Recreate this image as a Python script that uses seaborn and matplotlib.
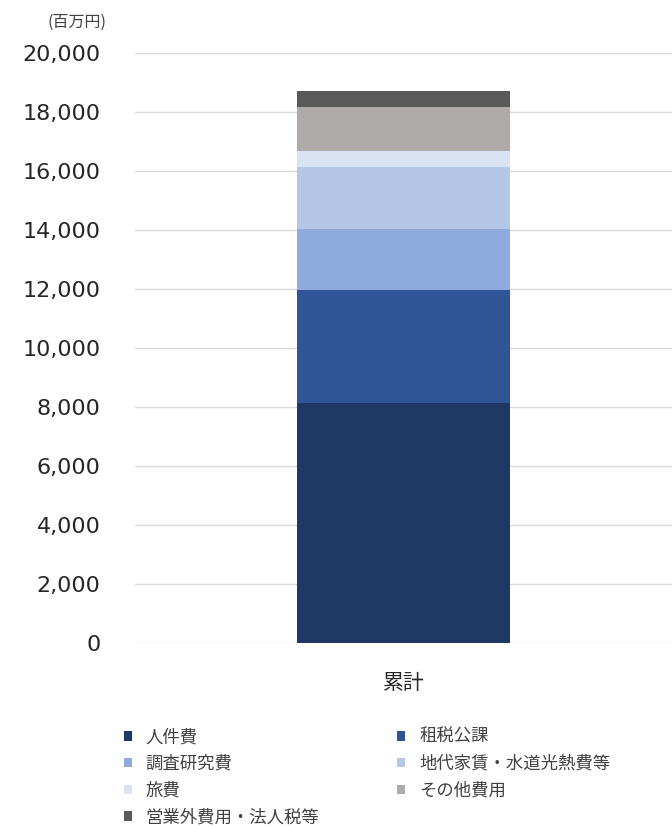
import numpy as np
import pandas as pd
import matplotlib
matplotlib.use("Agg")
import matplotlib.pyplot as plt
import seaborn as sns
from matplotlib.patches import Patch

categories = ["累計"]
series_names = ["人件費", "租税公課", "調査研究費", "地代家賃・水道光熱費等", "旅費", "その他費用", "営業外費用・法人税等"]
values = [8150, 3800, 2080, 2100, 550, 1480, 550]
colors = ["#1F3864", "#2F5597", "#8FAADC", "#B4C7E7", "#DAE3F3", "#AEAAAA", "#595959"]
yticks = [0, 2000, 4000, 6000, 8000, 10000, 12000, 14000, 16000, 18000, 20000]

sns.set_theme(style="white")
plt.rcParams['font.family'] = ['Noto Sans CJK JP', 'DejaVu Sans']

fig = plt.figure(figsize=(6.72, 8.27), dpi=100)
ax = fig.add_axes([0.201, 0.2225, 0.799, 0.7135])

cum = np.cumsum(values)
# draw from top (largest cumulative) down so each layer overlays the previous
for i in range(len(values) - 1, -1, -1):
    df = pd.DataFrame({"cat": categories, "val": [cum[i]]})
    sns.barplot(data=df, x="cat", y="val", color=colors[i], width=0.397,
                saturation=1, ax=ax, zorder=3, linewidth=0)

ax.set_ylim(0, 20000)
ax.set_xlim(-0.5, 0.5)
ax.set_yticks(yticks)
ax.set_yticklabels([f"{v:,}" for v in yticks], fontsize=16, color="#262626", family=['DejaVu Sans'])
ax.yaxis.grid(True, color="#D9D9D9", linewidth=1, zorder=0)
ax.tick_params(axis="y", length=0, pad=25)
ax.tick_params(axis="x", length=0, pad=21, labelsize=15, labelcolor="#262626")
ax.set_xlabel("")
ax.set_ylabel("")
for s in ax.spines.values():
    s.set_visible(False)

fig.text(0.115, 0.973, "(百万円)", fontsize=11.5, color="#404040", ha="center", va="center")

handles = [Patch(facecolor=c, edgecolor="none") for c in colors]
order = [0, 2, 4, 6, 1, 3, 5]
leg = fig.legend([handles[i] for i in order], [series_names[i] for i in order],
                 ncol=2, loc="upper left", bbox_to_anchor=(0.174, 0.128),
                 frameon=False, fontsize=12.5, handlelength=0.45, handleheight=0.45,
                 handletextpad=0.8, columnspacing=4.5, labelspacing=0.5,
                 borderaxespad=0)
for t in leg.get_texts():
    t.set_color("#404040")

fig.savefig("out.png", dpi=100)
